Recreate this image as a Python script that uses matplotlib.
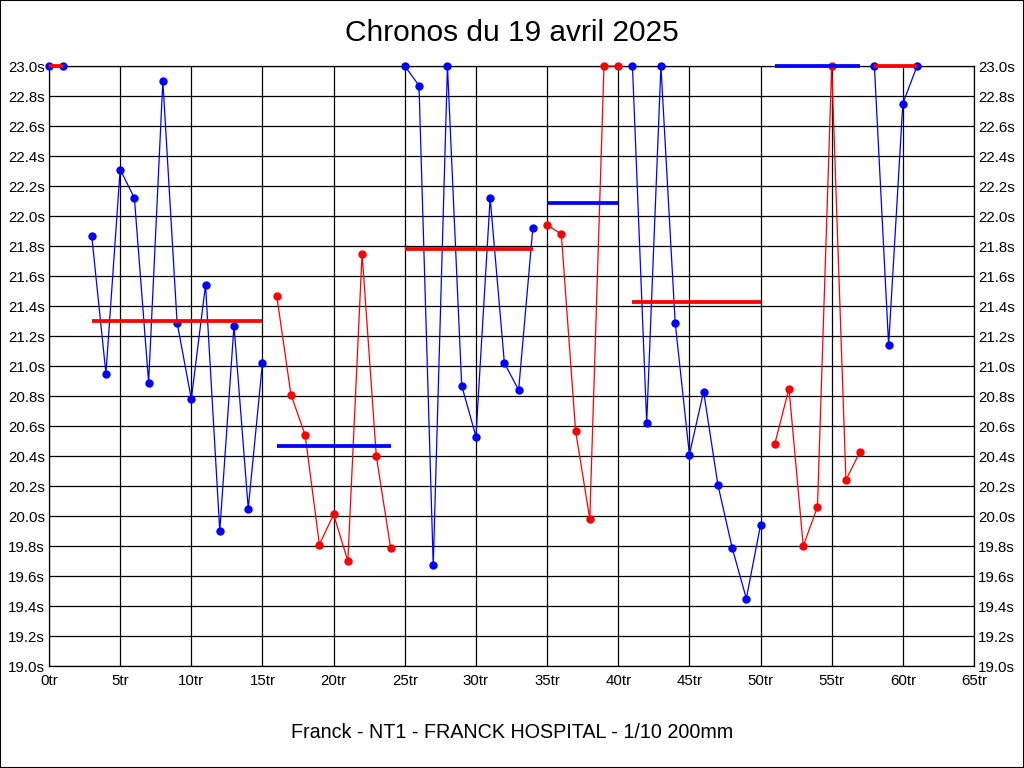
import matplotlib
matplotlib.use("Agg")
import matplotlib.pyplot as plt
from matplotlib.patches import Rectangle
import numpy as np

plt.rcParams['font.family'] = ['Liberation Sans', 'DejaVu Sans']

# sessions : premier tour de chaque série et chronos (s)
debuts = [0, 3, 16, 25, 35, 41, 51, 58]
s0 = [23.0, 23.0]
s1 = [21.87, 20.95, 22.31, 22.12, 20.89, 22.90, 21.29, 20.78, 21.54, 19.90, 21.27, 20.05, 21.02]
s2 = [21.47, 20.81, 20.54, 19.81, 20.01, 19.70, 21.75, 20.40, 19.79]
s3 = [23.0, 22.87, 19.67, 23.0, 20.87, 20.53, 22.12, 21.02, 20.84, 21.92]
s4 = [21.94, 21.88, 20.57, 19.98, 23.0, 23.0]
s5 = [23.0, 20.62, 23.0, 21.29, 20.41, 20.83, 20.21, 19.79, 19.45, 19.94]
s6 = [20.48, 20.85, 19.80, 20.06, 23.0, 20.24, 20.43]
s7 = [23.0, 21.14, 22.75, 23.0]
series = [s0, s1, s2, s3, s4, s5, s6, s7]
moyennes = [23.0, 21.30, 20.47, 21.78, 22.09, 21.43, 23.0, 23.0]

titre = "Chronos du 19 avril 2025"
legende = "Franck - NT1 - FRANCK HOSPITAL - 1/10 200mm"

couleurs = ['#0000ff', '#0000ff', '#ff0000', '#0000ff', '#ff0000', '#0000ff', '#ff0000', '#0000ff']
opposees = {'#0000ff': '#ff0000', '#ff0000': '#0000ff'}

fig = plt.figure(figsize=(10.24, 7.68), dpi=100)
fig.patch.set_facecolor('white')
ax = fig.add_axes([49 / 1024, 102 / 768, 925 / 1024, 600 / 768])

for debut, vals, moy, c in zip(debuts, series, moyennes, couleurs):
    x = np.arange(debut, debut + len(vals))
    ax.plot(x, vals, color=c, lw=0.9, marker='o', ms=5, mec=c, mfc=c,
            clip_on=False, zorder=3)
    ax.plot([x[0], x[-1]], [moy, moy], color=opposees[c], lw=2.7,
            solid_capstyle='butt', clip_on=False, zorder=4)

ax.set_xlim(0, 65)
ax.set_ylim(19.0, 23.0)
xt = np.arange(0, 66, 5)
yt = np.round(np.arange(19.0, 23.01, 0.2), 1)
ax.set_xticks(xt)
ax.set_xticklabels([f"{v}tr" for v in xt])
ax.set_yticks(yt)
ax.set_yticklabels([f"{v:.1f}s" for v in yt])
ax.grid(True, color='black', lw=0.9)
ax.set_axisbelow(True)
ax.tick_params(length=0, labelsize=10.8, pad=3, labelright=True)
ax.tick_params(axis='x', pad=6)
for sp in ax.spines.values():
    sp.set_color('black')
    sp.set_linewidth(0.9)

fig.text(0.5, 1 - 33 / 768, titre, ha='center', va='center', fontsize=21.5)
fig.text(0.5, 1 - 733 / 768, legende, ha='center', va='center', fontsize=14.2)
fig.add_artist(Rectangle((0, 0), 1, 1, transform=fig.transFigure, fill=False,
                         edgecolor='black', lw=1.5))

fig.savefig("out.png", dpi=100)
